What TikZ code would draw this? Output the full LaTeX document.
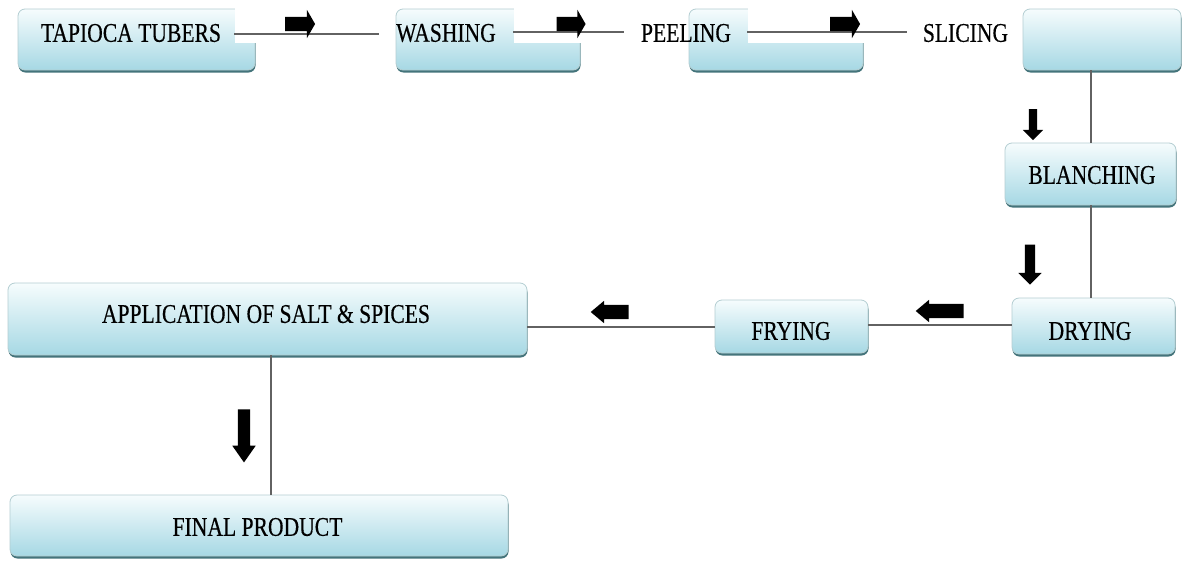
\documentclass[tikz,border=0pt]{standalone}
\usepackage{fontspec}
\setmainfont{Liberation Serif}[FakeStretch=0.8,FakeBold=0.35]
\usetikzlibrary{shapes.arrows,shadows}
\definecolor{boxtop}{HTML}{F6FCFD}
\definecolor{boxbot}{HTML}{A6D8E4}
\definecolor{boxedge}{HTML}{B4CED2}
\definecolor{boxshade}{HTML}{44747B}
\definecolor{connline}{HTML}{626262}
\tikzset{
  procbox/.style={rectangle, rounded corners=7pt, top color=boxtop, bottom color=boxbot,
    draw=boxedge, line width=0.8pt, inner sep=0pt,
    general shadow={fill=boxshade, shadow yshift=-2.5pt, shadow xshift=0.5pt}},
  label/.style={inner sep=0pt, font=\fontsize{27}{30}\selectfont, text=black},
  conn/.style={draw=connline, line width=2pt},
  band/.style={fill=white, draw=none},
  blockarrow/.style n args={4}{single arrow, fill=black, draw=none, inner xsep=0pt,
    minimum width=0pt, minimum height=#1, inner ysep=#2/2,
    single arrow head extend=#3, single arrow tip angle=#4}
}
\begin{document}
\begin{tikzpicture}[x=1pt,y=-1pt]
  \fill[white] (0,0) rectangle (1184,560);
  \useasboundingbox (0,0) rectangle (1184,560);

  % process boxes
  \node[procbox, minimum width=237pt, minimum height=61pt] (boxA) at (136.5,39.5) {};
  \node[procbox, minimum width=184pt, minimum height=61pt] (boxB) at (488,39.5) {};
  \node[procbox, minimum width=174pt, minimum height=61pt] (boxC) at (776,39.5) {};
  \node[procbox, minimum width=158pt, minimum height=61pt] (boxD) at (1102,39.5) {};
  \node[procbox, minimum width=171pt, minimum height=62pt] (blanch) at (1090.5,174) {};
  \node[procbox, minimum width=163pt, minimum height=56pt] (dry) at (1093.5,326) {};
  \node[procbox, minimum width=153pt, minimum height=53pt] (fry) at (791.5,326.5) {};
  \node[procbox, minimum width=519pt, minimum height=72pt] (app) at (267.5,319) {};
  \node[procbox, minimum width=498pt, minimum height=61pt] (final) at (259,525.5) {};

  % white strips behind the upper connectors
  \fill[band] (235,3) rectangle (378,43);
  \fill[band] (514,3) rectangle (623,43);
  \fill[band] (748,3) rectangle (908,43);

  % step names
  \node[label] (tap) at (131,33) {TAPIOCA TUBERS};
  \node[label] (wash) at (446,33) {WASHING};
  \node[label] (peel) at (686,33) {PEELING};
  \node[label] (slic) at (965.5,33) {SLICING};
  \node[label] (blanchtxt) at (1092,175) {BLANCHING};
  \node[label] (drytxt) at (1090,331) {DRYING};
  \node[label] (frytxt) at (791,331) {FRYING};
  \node[label] (apptxt) at (266,314) {APPLICATION OF SALT \& SPICES};
  \node[label] (finaltxt) at (257.5,527) {FINAL PRODUCT};

  % connectors
  \draw[conn] ([xshift=13pt]tap.east |- 0,34) -- ([xshift=-17pt]wash.west |- 0,34);
  \draw[conn] ([xshift=17pt]wash.east |- 0,32) -- ([xshift=-17pt]peel.west |- 0,32);
  \draw[conn] ([xshift=16pt]peel.east |- 0,32) -- ([xshift=-16pt]slic.west |- 0,32);
  \draw[conn, line width=1.6pt] (1091,0 |- boxD.south) -- (1091,0 |- blanch.north);
  \draw[conn, line width=1.6pt] (1091,0 |- blanch.south) -- (1091,0 |- dry.north);
  \draw[conn] (dry.west |- 0,325) -- (fry.east |- 0,325);
  \draw[conn] (fry.west |- 0,327) -- (app.east |- 0,327);
  \draw[conn, line width=1.6pt] (271,0 |- app.south) -- (271,0 |- final.north);

  % direction marks
  \node[blockarrow={30pt}{14pt}{7pt}{120}] (ra1) at (298,24) {};
  \node[blockarrow={29pt}{14pt}{7pt}{120}] (ra2) at (569,24) {};
  \node[blockarrow={30pt}{14pt}{7pt}{120}] (ra3) at (843,24) {};
  \node[blockarrow={31pt}{8pt}{6pt}{90}, rotate=-90] (da1) at (1033,122.5) {};
  \node[blockarrow={40pt}{10pt}{6.5pt}{90}, rotate=-90] (da2) at (1030,262) {};
  \node[blockarrow={53pt}{12pt}{5.5pt}{70}, rotate=-90] (da3) at (244,431.5) {};
  \node[blockarrow={48pt}{14pt}{4pt}{80}, rotate=180] (la1) at (944,311) {};
  \node[blockarrow={38pt}{14pt}{4pt}{80}, rotate=180] (la2) at (614,312) {};
\end{tikzpicture}
\end{document}
